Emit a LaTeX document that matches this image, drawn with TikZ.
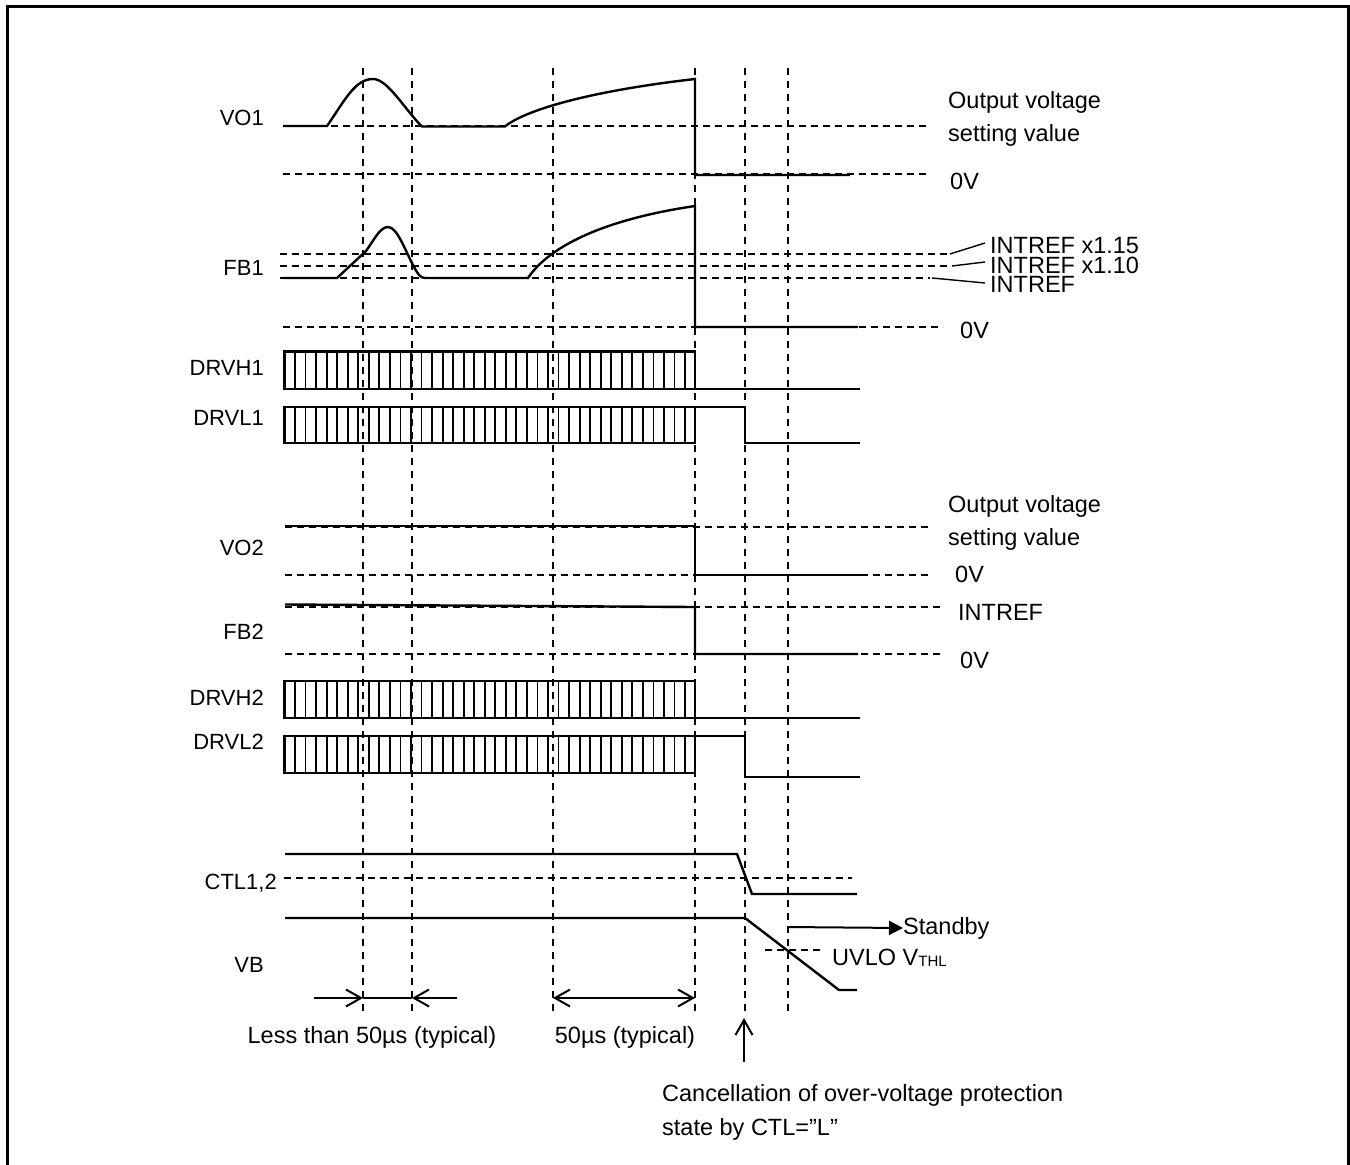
\documentclass[tikz,border=0pt]{standalone}
\usepackage{fontspec}
\setmainfont{Liberation Sans}
\usetikzlibrary{arrows.meta}
\begin{document}
\begin{tikzpicture}[x=1pt,y=-1pt,
  sig/.style={line width=2.4pt, line join=miter},
  guide/.style={line width=1.4pt, dash pattern=on 7pt off 5pt},
  vguide/.style={line width=1.4pt, dash pattern=on 7pt off 6pt},
  pulse/.style={line width=1.8pt},
  lab/.style={font=\fontsize{23.5}{23.5}\selectfont, anchor=base west, inner sep=0pt},
  sname/.style={font=\fontsize{22}{22}\selectfont, anchor=base east, inner sep=0pt},
  dimarrow/.style={line width=2pt, -{Straight Barb[length=15pt,width=17pt]}},
  leader/.style={line width=1.4pt}]
\useasboundingbox (0,0) rectangle (1350,1165);
% frame
\draw[line width=2.8pt] (7.5,1180) -- (7.5,6.7) -- (1348.6,6.7) -- (1348.6,1180);

% vertical guides
\foreach \x in {363,412,553,695,745,788}
  \draw[vguide] (\x,68) -- (\x,1013);

% horizontal guides
\draw[guide] (283,126) -- (928,126);
\draw[guide] (283,174) -- (928,174);
\draw[guide] (280,254) -- (950,254);
\draw[guide] (280,266) -- (952,266);
\draw[guide] (280,278) -- (930,278);
\draw[guide] (283,327) -- (943,327);
\draw[guide] (285,527) -- (928,527);
\draw[guide] (285,575) -- (930,575);
\draw[guide] (285,607) -- (943,607);
\draw[guide] (285,654) -- (943,654);
\draw[guide] (284,878) -- (852,878);
\draw[guide] (765,950) -- (823,950);

% leaders to INTREF labels
\draw[leader] (950,254) -- (985,243);
\draw[leader] (952,266) -- (985,262);
\draw[leader] (932,278) -- (985,283);

% VO1
\draw[sig] (283,126) -- (327,126) .. controls (345,100) and (355,79) .. (373,79)
  .. controls (388,79) and (405,110) .. (422,126.5) -- (505,126.5)
  .. controls (525,110) and (590,91) .. (695,79) -- (695,175) -- (850,175);
% FB1
\draw[sig] (283,278) -- (337,278) -- (366,251) .. controls (374,240) and (380,227) .. (388,227)
  .. controls (397,227) and (404,248) .. (414,267) .. controls (418,274) and (420,278) .. (425,278)
  -- (528,278) .. controls (548,248) and (600,220) .. (695,206) -- (695,327) -- (858,327);

% DRVH1 / DRVL1
\draw[sig] (284.5,351.5) rectangle (695,389);
\foreach \i in {1,...,38} \draw[pulse] ({284.5+\i*10.54},351.5) -- ++(0,37.5);
\draw[sig] (695,389) -- (860,389);
\draw[sig] (284.5,407) rectangle (695,443);
\foreach \i in {1,...,38} \draw[pulse] ({284.5+\i*10.54},407) -- ++(0,36);
\draw[sig] (695,407) -- (745,407) -- (745,443) -- (860,443);

% VO2 / FB2
\draw[sig] (285,526) -- (695,526) -- (695,575) -- (865,575);
\draw[sig] (285,604.5) -- (695,607) -- (695,654) -- (858,654);

% DRVH2 / DRVL2
\draw[sig] (284.5,681) rectangle (695,718);
\foreach \i in {1,...,38} \draw[pulse] ({284.5+\i*10.54},681) -- ++(0,37);
\draw[sig] (695,718) -- (860,718);
\draw[sig] (284.5,736) rectangle (695,773);
\foreach \i in {1,...,38} \draw[pulse] ({284.5+\i*10.54},736) -- ++(0,37);
\draw[sig] (695,736) -- (745,736) -- (745,777) -- (860,777);

% CTL / VB
\draw[sig] (285,854) -- (737,854) -- (752,894) -- (857,894);
\draw[sig] (285,918) -- (745,918) -- (839,990) -- (857,990);

% Standby arrow
\coordinate (sbstart) at (787,927);
\node[lab, anchor=west] (standby) at (903,928) {Standby};
\draw[line width=2pt, -{Triangle[length=14pt,width=14pt]}] (sbstart) -- (standby.west);
\node[lab] (uvlo) at (832,965) {UVLO V{\fontsize{15}{15}\selectfont\raisebox{-1.5pt}{THL}}};

% signal names
\node[sname] (nVO1) at (264,125) {VO1};
\node[sname] (nFB1) at (264,275) {FB1};
\node[sname] (nDRVH1) at (264,375) {DRVH1};
\node[sname] (nDRVL1) at (264,425) {DRVL1};
\node[sname] (nVO2) at (264,555) {VO2};
\node[sname] (nFB2) at (264,639) {FB2};
\node[sname] (nDRVH2) at (264,705) {DRVH2};
\node[sname] (nDRVL2) at (264,749) {DRVL2};
\node[sname] (nCTL) at (277,889) {CTL1,2};
\node[sname] (nVB) at (264,972) {VB};

% right labels
\node[lab] (ov1a) at (948,108) {Output voltage};
\node[lab] (ov1b) at (948,141) {setting value};
\node[lab] (zv1) at (950,189) {0V};
\node[lab] (ir115) at (990,253) {INTREF x1.15};
\node[lab] (ir110) at (990,273) {INTREF x1.10};
\node[lab] (ir) at (990,292) {INTREF};
\node[lab] (zv2) at (960,338) {0V};
\node[lab] (ov2a) at (948,512) {Output voltage};
\node[lab] (ov2b) at (948,545) {setting value};
\node[lab] (zv3) at (955,582) {0V};
\node[lab] (ir2) at (958,620) {INTREF};
\node[lab] (zv4) at (960,668) {0V};

% time annotations
\coordinate (a1) at (314,998);
\coordinate (a2) at (363,998);
\coordinate (a3) at (412,998);
\coordinate (a4) at (457,998);
\coordinate (b1) at (553,998);
\coordinate (b2) at (695,998);
\draw[dimarrow] (a1) -- (a2);
\draw[line width=1.3pt] (a2) -- (a3);
\draw[dimarrow] (a4) -- (a3);
\draw[dimarrow, {Straight Barb[length=15pt,width=17pt]}-{Straight Barb[length=15pt,width=17pt]}] (b1) -- (b2);
\node[lab, anchor=base] (less) at (372,1043) {Less than 50µs (typical)};
\node[lab, anchor=base] (fifty) at (625,1043) {50µs (typical)};

\coordinate (c1) at (744,1062);
\coordinate (c2) at (744,1018);
\draw[dimarrow] (c1) -- (c2);
\node[lab] (canc1) at (662,1101) {Cancellation of over-voltage protection};
\node[lab] (canc2) at (662,1135) {state by CTL="L”};
\end{tikzpicture}
\end{document}
